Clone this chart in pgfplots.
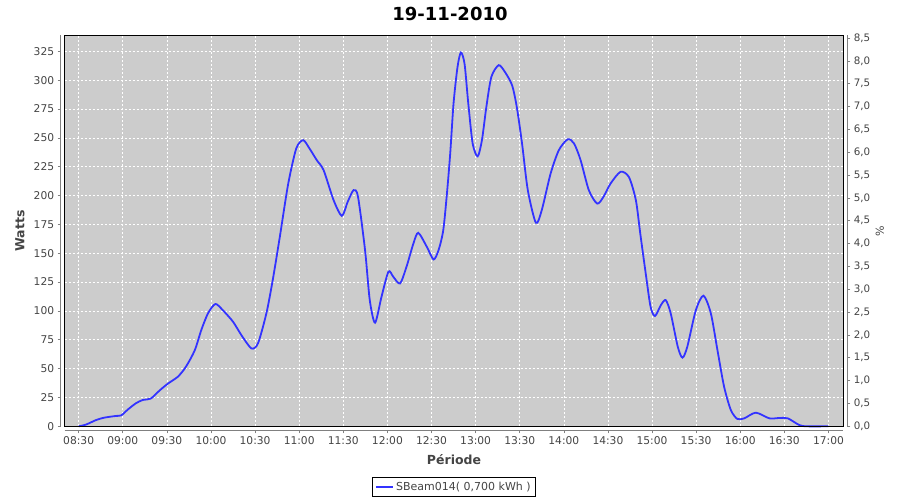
\documentclass[border=0pt]{standalone}
\usepackage{fontspec}
\setmainfont{DejaVu Sans}
\usepackage{pgfplots}
\pgfplotsset{compat=1.18}
\definecolor{bgray}{RGB}{204,204,204}
\definecolor{lblue}{RGB}{51,51,255}
\definecolor{tgray}{RGB}{68,68,68}
\definecolor{agray}{RGB}{128,128,128}
\begin{document}
\begin{tikzpicture}
\path[use as bounding box] (0pt,0pt) rectangle (900pt,500pt);
\node[anchor=center] at (450pt,486.5pt) {\fontsize{18}{20}\selectfont\bfseries 19-11-2010};
\begin{axis}[
  at={(64.7pt,73.7pt)}, anchor=south west,
  scale only axis, width=778.6pt, height=391pt,
  xmin=500.5, xmax=1030.1, ymin=0, ymax=338.9,
  axis background/.style={fill=bgray},
  axis x line*=bottom, axis y line*=left,
  axis x line shift=4pt, axis y line shift=4pt,
  axis line style={agray, line width=0.8pt},
  xtick={510,540,...,1020},
  xticklabels={08:30,09:00,09:30,10:00,10:30,11:00,11:30,12:00,12:30,13:00,13:30,14:00,14:30,15:00,15:30,16:00,16:30,17:00},
  ytick={0,25,...,325},
  grid=major,
  grid style={white, dash pattern=on 2pt off 2pt, line width=0.6pt},
  tick align=outside, major tick length=3pt,
  tick style={agray, line width=0.6pt},
  tick label style={font=\fontsize{10.7}{12}\selectfont, text=tgray},
  /pgf/number format/assume math mode=true,
  xlabel={Période}, ylabel={Watts},
  xlabel style={at={(axis description cs:0.5,-0.086)}, anchor=center, font=\fontsize{12.5}{14}\selectfont\bfseries, text=tgray},
  ylabel style={at={(axis description cs:-0.0574,0.5)}, anchor=center, font=\fontsize{12.5}{14}\selectfont\bfseries, text=tgray},
  legend style={at={(axis description cs:0.5,-0.1295)}, anchor=north, draw=black, line width=0.8pt, font=\fontsize{11}{13}\selectfont, text=tgray, inner sep=2.5pt},
  legend cell align=left,
  legend image post style={line width=1.8pt},
  clip=false,
]
\addplot[lblue, line width=1.8pt, smooth, tension=0.45] coordinates {
(510,0) (515,1.5) (522,5.5) (527.5,7.5) (535.5,9) (539,9.5) (543.6,14.7) (549,20)
(553.6,22.8) (559,24) (565,31) (570.7,37) (577.5,43) (583,51.7) (589,66) (593.4,83.4)
(598,98) (603,106) (608,100.7) (615,90.6) (620.7,79) (627.5,67.5) (632,72) (637.7,98)
(642,126.7) (646.8,164) (652.5,210) (658,240.8) (662.7,248) (667,240.8) (672,230.6)
(676.6,222) (683.4,196) (689,182.4) (693,194.6) (697,204.7) (700,199) (704.8,152.7)
(708,109.4) (711.6,89.8) (716,112.3) (720.7,134) (724,129.6) (728.6,123.8) (733,138.3)
(737.7,158.5) (741,167.7) (746.8,155.6) (751.4,144.6) (754.8,152.7) (758,170) (760.5,201.8)
(762.7,236) (765,280) (767.7,311.5) (770,324) (772.5,314) (775,280) (778,245) (781.4,234)
(784.3,248) (787.3,276.8) (790.7,302.8) (795.7,313) (800,307) (804.8,295.6) (808,276.8)
(811.6,245) (815.5,204.7) (821,176.4) (825,187.4) (831,219) (836.6,239.3) (842.7,248.8)
(847,245) (851.4,230.7) (857,204.7) (862.7,193) (867,199) (871.8,210.4) (878.6,220.6)
(884.3,216) (889,196) (892,167) (895.7,132.5) (899,103.6) (902,95.6) (906,105) (909.3,109.4)
(912.7,97.9) (917.5,69) (920.7,59.5) (924,69) (929.8,100.7) (935,113.2) (940,97.9)
(944.5,66) (949,34.4) (953.6,14.1) (958,6.4) (962.7,6.9) (970.6,11.8) (979.8,6.9)
(986.6,7.2) (992.3,6.9) (1000,1.2) (1005,0) (1020,0)
};
\addlegendentry{SBeam014( 0,700 kWh )}
\draw[black, line width=1pt] (rel axis cs:0,0) rectangle (rel axis cs:1,1);
\end{axis}
\begin{axis}[
  at={(64.7pt,73.7pt)}, anchor=south west,
  scale only axis, width=778.6pt, height=391pt,
  xmin=500.5, xmax=1030.1, ymin=0, ymax=8.559,
  axis x line=none, axis y line*=right,
  axis y line shift=4pt,
  axis line style={agray, line width=0.8pt},
  ytick={0,0.5,...,8.5},
  tick align=outside, major tick length=3pt,
  tick style={agray, line width=0.6pt},
  tick label style={font=\fontsize{10.3}{12}\selectfont, text=tgray},
  /pgf/number format/assume math mode=true,
  yticklabel style={/pgf/number format/.cd, fixed, fixed zerofill, precision=1, use comma},
  ylabel={\%},
  ylabel style={at={(axis description cs:1.047,0.5)}, anchor=center, font=\fontsize{11}{13}\selectfont, text=tgray},
]
\end{axis}
\end{tikzpicture}
\end{document}
